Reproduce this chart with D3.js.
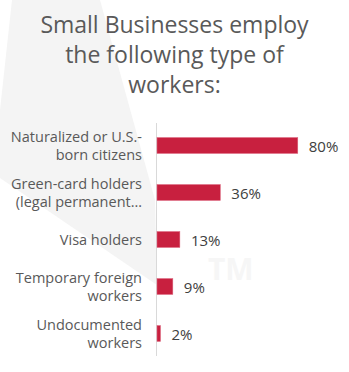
<!DOCTYPE html>
<html>
  <head>
    <meta charset="utf-8">
    <title>Small Businesses workers</title>
    <script src="https://d3js.org/d3.v7.min.js"></script>
    <style>
      body { margin: 0; background-color: #fff; }
      #chart svg { display: block; }
      text { font-family: "Open Sans", "Noto Sans", sans-serif; }
    </style>
  </head>
  <body>
    <div id="chart"></div>
    <script>
      // data
      var categories = ["Naturalized", "Green-card", "Visa", "Temporary", "Undocumented"];
      var labelLines = [
        ["Naturalized or U.S.-", "born citizens"],
        ["Green-card holders", "(legal permanent\u2026"],
        ["Visa holders"],
        ["Temporary foreign", "workers"],
        ["Undocumented", "workers"]
      ];
      var values = [80, 36, 13, 9, 2];
      var titleLines = ["Small Businesses employ", "the following type of", "workers:"];

      var width = 349, height = 372;

      var svg = d3.select("#chart")
        .append("svg")
          .attr("width", width)
          .attr("height", height);

      // faint background watermark
      svg.append("path")
        .attr("d", "M12,0 L100,0 L155,200 L157,285 L0,178 L0,110 Z")
        .attr("fill", "#f4f4f4");
      svg.append("text")
        .attr("x", 208).attr("y", 280)
        .attr("font-size", 30)
        .attr("font-weight", "bold")
        .attr("fill", "#f6f6f6")
        .text("TM");

      // title
      svg.append("g").selectAll("text")
        .data(titleLines)
        .enter().append("text")
          .attr("x", 174.5)
          .attr("y", function(d, i) { return 33 + i * 30; })
          .attr("text-anchor", "middle")
          .attr("font-size", 23)
          .attr("fill", "#595959")
          .text(function(d) { return d; });

      var y = d3.scaleBand()
        .domain(categories)
        .range([122, 357])
        .paddingInner(0.66)
        .paddingOuter(0.33);

      var x = d3.scaleLinear()
        .domain([0, 100])
        .range([157, 333]);

      // vertical axis line
      svg.append("line")
        .attr("x1", 156.5).attr("x2", 156.5)
        .attr("y1", 123).attr("y2", 356)
        .attr("stroke", "#d9d9d9")
        .attr("stroke-width", 1);

      var rows = values.map(function(v, i) {
        return {cat: categories[i], value: v, lines: labelLines[i]};
      });

      svg.append("g").selectAll("rect")
        .data(rows)
        .enter().append("rect")
          .attr("x", x(0))
          .attr("y", function(d) { return y(d.cat); })
          .attr("width", function(d) { return x(d.value) - x(0); })
          .attr("height", y.bandwidth())
          .attr("fill", "#c8203f")
          .attr("stroke", "#dd6a82")
          .attr("stroke-width", 0.5);

      // value labels
      svg.append("g").selectAll("text")
        .data(rows)
        .enter().append("text")
          .attr("x", function(d) { return x(d.value) + 11; })
          .attr("y", function(d) { return y(d.cat) + y.bandwidth() / 2 + 6; })
          .attr("font-size", 15)
          .attr("fill", "#404040")
          .text(function(d) { return d.value + "%"; });

      // category labels, right aligned
      var lab = svg.append("g").selectAll("text")
        .data(rows)
        .enter().append("text")
          .attr("text-anchor", "end")
          .attr("font-size", 14.5)
          .attr("fill", "#595959");

      lab.each(function(d) {
        var n = d.lines.length;
        var mid = y(d.cat) + y.bandwidth() / 2;
        d3.select(this).selectAll("tspan")
          .data(d.lines)
          .enter().append("tspan")
            .attr("x", 142)
            .attr("y", function(t, j) { return mid + 5 + (j - (n - 1) / 2) * 18; })
            .text(function(t) { return t; });
      });
    </script>
  </body>
</html>
